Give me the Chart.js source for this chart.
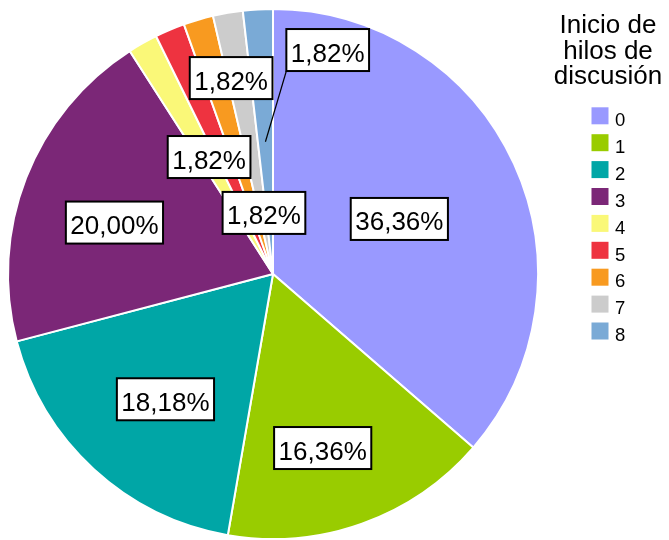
<!DOCTYPE html>
<html>
<head>
<meta charset="utf-8">
<script src="https://cdn.jsdelivr.net/npm/chart.js@4"></script>
<style>
  html, body { margin: 0; padding: 0; background: #ffffff; }
  #wrap { width: 669px; height: 540px; position: relative; }
</style>
</head>
<body>
<div id="wrap"><canvas id="c" width="669" height="540"></canvas></div>
<script>
// ---- data ----
const categories = ['0', '1', '2', '3', '4', '5', '6', '7', '8'];
const counts = [20, 9, 10, 11, 1, 1, 1, 1, 1];
const percentLabels = ['36,36%', '16,36%', '18,18%', '20,00%', '1,82%', '1,82%', '1,82%', '1,82%', '1,82%'];
const legendTitle = ['Inicio de', 'hilos de', 'discusión'];
const sliceColors = ['#9999FF', '#99CC00', '#00A6A6', '#7B2777', '#FAF878', '#EE3340', '#F89A20', '#CCCCCC', '#7AAAD6'];

// label placement (repelled positions, polar relative to the pie): radius fraction, angle shift (deg)
const labelPlacement = [
  { r: 0.52, d: 1.0 },
  { r: 0.683, d: 3.7 },
  { r: 0.623, d: -1.9 },
  { r: 0.629, d: -3.3 },
  { r: 0.503, d: 0.8 },
  null,
  { r: 0.756, d: 4.3 },
  { r: 0.233, d: 1.4 },
  { r: 0.87, d: 17.0, leader: true }
];

const FONT = "'Liberation Sans', Arial, Helvetica, sans-serif";

const labelPlugin = {
  id: 'repelLabels',
  afterDatasetsDraw(chart) {
    const ctx = chart.ctx;
    const meta = chart.getDatasetMeta(0);
    ctx.save();
    ctx.font = '26px ' + FONT;
    const boxes = [];
    meta.data.forEach((arc, i) => {
      const p = labelPlacement[i];
      if (!p) return;
      const { x, y, startAngle, endAngle, outerRadius } = arc.getProps(['x', 'y', 'startAngle', 'endAngle', 'outerRadius'], true);
      const mid = (startAngle + endAngle) / 2;
      const ax = x + Math.cos(mid) * outerRadius * 0.5;
      const ay = y + Math.sin(mid) * outerRadius * 0.5;
      const a2 = mid + p.d * Math.PI / 180;
      const cx = x + Math.cos(a2) * outerRadius * p.r;
      const cy = y + Math.sin(a2) * outerRadius * p.r;
      const tw = ctx.measureText(percentLabels[i]).width;
      const w = tw + 9, h = 42;
      boxes.push({ i, cx, cy, w, h, ax, ay, leader: p.leader });
    });
    // segments first
    boxes.forEach(b => {
      if (!b.leader) return;
      const l = b.cx - b.w / 2, r = b.cx + b.w / 2, t = b.cy - b.h / 2, bt = b.cy + b.h / 2;
      const ex = Math.min(Math.max(b.ax, l), r);
      const ey = Math.min(Math.max(b.ay, t), bt);
      ctx.beginPath();
      ctx.moveTo(b.ax, b.ay);
      ctx.lineTo(ex, ey);
      ctx.strokeStyle = '#000';
      ctx.lineWidth = 1.2;
      ctx.stroke();
    });
    boxes.forEach(b => {
      const l = b.cx - b.w / 2, t = b.cy - b.h / 2;
      ctx.fillStyle = '#fff';
      ctx.fillRect(l, t, b.w, b.h);
      ctx.strokeStyle = '#000';
      ctx.lineWidth = 2;
      ctx.strokeRect(l, t, b.w, b.h);
      ctx.fillStyle = '#000';
      ctx.textAlign = 'center';
      ctx.textBaseline = 'alphabetic';
      ctx.fillText(percentLabels[b.i], b.cx, b.cy + 11.5);
    });
    ctx.restore();
  }
};

const legendPlugin = {
  id: 'sideLegend',
  afterDraw(chart) {
    const ctx = chart.ctx;
    ctx.save();
    ctx.fillStyle = '#000';
    ctx.textAlign = 'center';
    ctx.textBaseline = 'alphabetic';
    ctx.font = '26px ' + FONT;
    legendTitle.forEach((line, k) => ctx.fillText(line, 608, 33 + k * 25.6));
    const ds = chart.data.datasets[0];
    ctx.font = '18.5px ' + FONT;
    ctx.textAlign = 'left';
    chart.data.labels.forEach((lab, k) => {
      const top = 107.3 + k * 26.9;
      ctx.fillStyle = ds.backgroundColor[k];
      ctx.fillRect(591.5, top, 17, 17);
      ctx.fillStyle = '#000';
      ctx.fillText(lab, 615, top + 18.7);
    });
    ctx.restore();
  }
};

new Chart(document.getElementById('c'), {
  type: 'pie',
  data: {
    labels: categories,
    datasets: [{
      data: counts,
      backgroundColor: sliceColors,
      borderColor: '#ffffff',
      borderWidth: 2
    }]
  },
  options: {
    responsive: false,
    animation: false,
    events: [],
    layout: { padding: { left: 6, top: 8, right: 129, bottom: -2 } },
    plugins: {
      legend: { display: false },
      tooltip: { enabled: false },
      title: { display: false }
    }
  },
  plugins: [labelPlugin, legendPlugin]
});
</script>
</body>
</html>
